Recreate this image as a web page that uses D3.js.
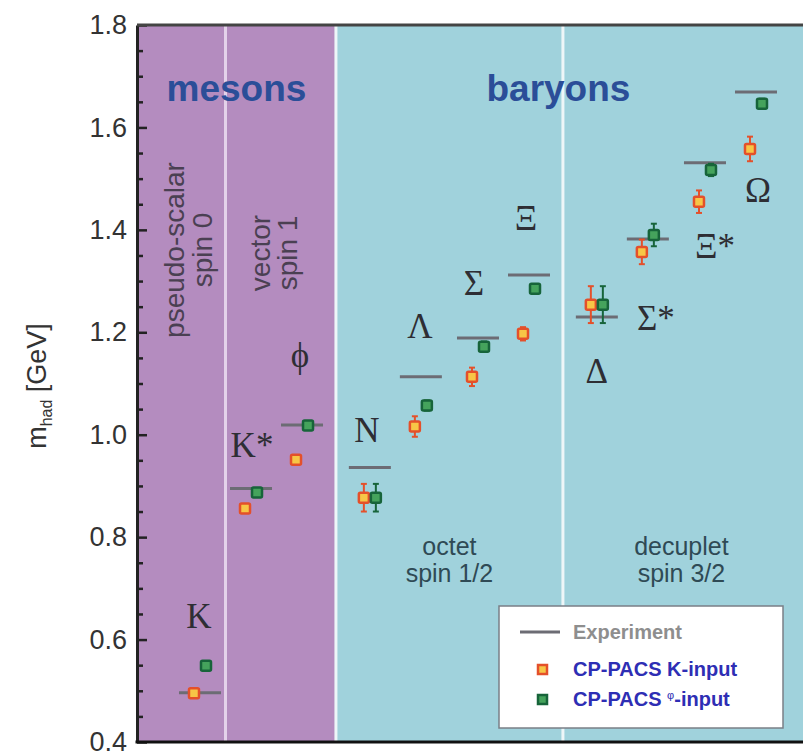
<!DOCTYPE html>
<html><head><meta charset="utf-8">
<script src="https://cdn.jsdelivr.net/npm/d3@7"></script>
<style>html,body{margin:0;padding:0;background:#fff;} svg{display:block;}</style>
</head><body>
<svg id="chart" width="803" height="752"></svg>
<script>
// Light hadron spectrum: experiment vs. quenched lattice QCD (CP-PACS)
const particles   = ["K", "K*", "ϕ", "N", "Λ", "Σ", "Ξ", "Δ", "Σ*", "Ξ*", "Ω"];
const groupNames  = ["pseudo-scalar", "vector", "octet", "decuplet"];
const particleGroup = [0, 1, 1, 2, 2, 2, 2, 3, 3, 3, 3];
const experiment  = [0.496, 0.895, 1.019, 0.936, 1.113, 1.189, 1.312, 1.230, 1.382, 1.531, 1.669];
const kInput      = [0.495, 0.856, 0.951, 0.877, 1.016, 1.113, 1.197, 1.254, 1.357, 1.455, 1.558];
const kInputErr   = [0.004, 0.004, 0.004, 0.027, 0.020, 0.018, 0.013, 0.036, 0.024, 0.022, 0.024];
const phiInput    = [0.549, 0.887, 1.018, 0.877, 1.057, 1.172, 1.285, 1.254, 1.390, 1.517, 1.646];
const phiInputErr = [0.004, 0.004, 0.004, 0.027, 0.010, 0.010, 0.008, 0.036, 0.022, 0.012, 0.010];
const yMajorTicks = [0.4, 0.6, 0.8, 1.0, 1.2, 1.4, 1.6, 1.8];
const seriesNames = ["Experiment", "CP-PACS K-input", "CP-PACS φ-input"];

// ---- layout ----
const W = 803, H = 752;
const plot = {left: 137, top: 25, right: 807, bottom: 742};
// extra spacing (in slot units) inserted before some particles
const gapBefore = {"N": 0.33, "Σ": 0.12, "Δ": 0.33, "Ξ*": 0.12};
let acc = 0;
const slot = particles.map((p, i) => { acc += (gapBefore[p] || 0); return i + acc; });

const x = d3.scaleLinear().domain([-1.235, 11.9]).range([plot.left, plot.right]);
const y = d3.scaleLinear().domain([0.4, 1.8]).range([plot.bottom, plot.top]);

const sans = "'Liberation Sans', Arial, Helvetica, sans-serif";
const serif = "'Liberation Serif', 'Times New Roman', Times, serif";
const col = {
  meson: "#b48cbf", baryon: "#a0d2dc",
  sepMeson: "#e4d2ea", sepMain: "#eef6f8",
  exp: "#6c6c74",
  kEdge: "#e4502a", kFill: "#f7c646",
  pEdge: "#17643a", pFill: "#45a35c",
  title: "#2b4e98", legendBlue: "#2e2eb4"
};

const svg = d3.select("#chart");
svg.append("rect").attr("width", W).attr("height", H).attr("fill", "#fff");

// group boundaries: midway between neighbouring particles of different groups
const bounds = [plot.left];
for (let i = 1; i < particles.length; i++) {
  if (particleGroup[i] !== particleGroup[i - 1]) bounds.push(x((slot[i] + slot[i - 1]) / 2));
}
bounds.push(plot.right);

// background bands
svg.append("rect").attr("x", plot.left).attr("y", plot.top)
  .attr("width", bounds[2] - plot.left).attr("height", plot.bottom - plot.top)
  .attr("fill", col.meson);
svg.append("rect").attr("x", bounds[2]).attr("y", plot.top)
  .attr("width", plot.right - bounds[2]).attr("height", plot.bottom - plot.top)
  .attr("fill", col.baryon);

// separators
[1, 2, 3].forEach(k => {
  svg.append("line").attr("x1", bounds[k]).attr("x2", bounds[k])
    .attr("y1", plot.top).attr("y2", plot.bottom)
    .attr("stroke", k === 1 ? col.sepMeson : col.sepMain).attr("stroke-width", 3);
});

// family titles
svg.append("text").attr("x", (plot.left + bounds[2]) / 2).attr("y", 101)
  .attr("text-anchor", "middle").attr("font-family", sans).attr("font-weight", "bold")
  .attr("font-size", 37).attr("fill", col.title).text("mesons");
svg.append("text").attr("x", (bounds[2] + bounds[3]) / 2 + 109).attr("y", 101)
  .attr("text-anchor", "middle").attr("font-family", sans).attr("font-weight", "bold")
  .attr("font-size", 37).attr("fill", col.title).text("baryons");

// rotated meson-group captions
const vertCaptions = [
  {lines: ["pseudo-scalar", "spin 0"], x: [184, 212], cy: 250},
  {lines: ["vector", "spin 1"], x: [270, 297], cy: 253}
];
vertCaptions.forEach(c => {
  c.lines.forEach((t, j) => {
    svg.append("text")
      .attr("transform", `translate(${c.x[j]},${c.cy}) rotate(-90)`)
      .attr("text-anchor", "middle").attr("font-family", sans)
      .attr("font-size", 28).attr("fill", "#4a4052").text(t);
  });
});

// baryon-group captions
const horizCaptions = [
  {lines: ["octet", "spin 1/2"], g: 2},
  {lines: ["decuplet", "spin 3/2"], g: 3}
];
horizCaptions.forEach(c => {
  const cx = c.g === 2 ? (bounds[2] + bounds[3]) / 2 : x((slot[7] + slot[10]) / 2) + 5;
  c.lines.forEach((t, j) => {
    svg.append("text").attr("x", cx).attr("y", 555 + j * 27)
      .attr("text-anchor", "middle").attr("font-family", sans)
      .attr("font-size", 25).attr("fill", "#2f4a55").text(t);
  });
});

// experimental values
const half = 21, off = 6;
svg.append("g").selectAll("line").data(particles).join("line")
  .attr("x1", (d, i) => x(slot[i]) - half).attr("x2", (d, i) => x(slot[i]) + half)
  .attr("y1", (d, i) => y(experiment[i])).attr("y2", (d, i) => y(experiment[i]))
  .attr("stroke", col.exp).attr("stroke-width", 3);

// lattice results with error bars
function drawSeries(vals, errs, dx, edge, fill) {
  const g = svg.append("g");
  particles.forEach((p, i) => {
    const cx = x(slot[i]) + dx;
    const lo = y(vals[i] - errs[i]), hi = y(vals[i] + errs[i]);
    g.append("line").attr("x1", cx).attr("x2", cx).attr("y1", lo).attr("y2", hi)
      .attr("stroke", edge).attr("stroke-width", 2);
    [lo, hi].forEach(yy => g.append("line").attr("x1", cx - 3).attr("x2", cx + 3)
      .attr("y1", yy).attr("y2", yy).attr("stroke", edge).attr("stroke-width", 2));
  });
  g.selectAll("rect").data(vals).join("rect")
    .attr("x", (d, i) => x(slot[i]) + dx - 5).attr("y", d => y(d) - 5)
    .attr("width", 10).attr("height", 10).attr("rx", 1.5)
    .attr("fill", fill).attr("stroke", edge).attr("stroke-width", 2.5);
}
drawSeries(kInput, kInputErr, -off, col.kEdge, col.kFill);
drawSeries(phiInput, phiInputErr, off, col.pEdge, col.pFill);

// particle names: pixel offset from the particle column, height in GeV
const labelPlace = [
  {dx: -1, v: 0.623}, {dx: 1, v: 0.957}, {dx: -2, v: 1.133}, {dx: -3, v: 0.986},
  {dx: -1, v: 1.189}, {dx: -4, v: 1.273}, {dx: -3, v: 1.400}, {dx: 0, v: 1.101},
  {dx: 8, v: 1.205}, {dx: 10, v: 1.345}, {dx: 2, v: 1.455}
];
svg.append("g").selectAll("text").data(particles).join("text")
  .attr("x", (d, i) => x(slot[i]) + labelPlace[i].dx)
  .attr("y", (d, i) => y(labelPlace[i].v))
  .attr("text-anchor", "middle").attr("font-family", serif)
  .attr("font-size", 35).attr("fill", "#2e2e34").text(d => d);

// axes
const yAxis = d3.axisLeft(y).tickValues(yMajorTicks).tickFormat(d3.format(".1f"))
  .tickSizeInner(-10).tickSizeOuter(0).tickPadding(10);
const minor = d3.range(0.45, 1.8, 0.05).filter(v => Math.abs(v * 5 - Math.round(v * 5)) > 1e-6);
const yMinor = d3.axisLeft(y).tickValues(minor).tickFormat("").tickSizeInner(-6).tickSizeOuter(0);

const gMinor = svg.append("g").attr("transform", `translate(${plot.left},0)`).call(yMinor);
gMinor.select(".domain").remove();
gMinor.selectAll("line").attr("stroke", "#222").attr("stroke-width", 2.5);

const gy = svg.append("g").attr("transform", `translate(${plot.left},0)`).call(yAxis);
gy.select(".domain").attr("stroke", "#222").attr("stroke-width", 3);
gy.selectAll(".tick line").attr("stroke", "#222").attr("stroke-width", 2.5);
gy.selectAll(".tick text").attr("font-family", sans).attr("font-size", 27).attr("fill", "#333");

// frame: top and bottom rules
svg.append("line").attr("x1", plot.left).attr("x2", W).attr("y1", plot.top).attr("y2", plot.top)
  .attr("stroke", "#444").attr("stroke-width", 3);
svg.append("line").attr("x1", plot.left - 1.5).attr("x2", W).attr("y1", plot.bottom).attr("y2", plot.bottom)
  .attr("stroke", "#111").attr("stroke-width", 3);

// y axis title
const yt = svg.append("text").attr("transform", `translate(46,${386}) rotate(-90)`)
  .attr("text-anchor", "middle").attr("font-family", sans).attr("font-size", 27).attr("fill", "#333");
yt.append("tspan").text("m");
yt.append("tspan").attr("font-size", 16).attr("dy", 6).text("had");
yt.append("tspan").attr("dy", -6).text(" [GeV]");

// legend
const lg = svg.append("g");
lg.append("rect").attr("x", 499).attr("y", 606).attr("width", 284).attr("height", 122)
  .attr("fill", "#fff").attr("stroke", "#7a7f86").attr("stroke-width", 1.5);
lg.append("line").attr("x1", 520).attr("x2", 560).attr("y1", 632).attr("y2", 632)
  .attr("stroke", col.exp).attr("stroke-width", 3);
lg.append("text").attr("x", 573).attr("y", 639).attr("font-family", sans).attr("font-weight", "bold")
  .attr("font-size", 20).attr("fill", "#8e8e8e").text(seriesNames[0]);
[[col.kEdge, col.kFill, 669], [col.pEdge, col.pFill, 699]].forEach(([e, f, yy]) => {
  lg.append("rect").attr("x", 538).attr("y", yy - 4).attr("width", 9).attr("height", 9)
    .attr("fill", f).attr("stroke", e).attr("stroke-width", 2.5);
});
lg.append("text").attr("x", 573).attr("y", 676).attr("font-family", sans).attr("font-weight", "bold")
  .attr("font-size", 20).attr("fill", col.legendBlue).text(seriesNames[1]);
const t3 = lg.append("text").attr("x", 573).attr("y", 706).attr("font-family", sans).attr("font-weight", "bold")
  .attr("font-size", 20).attr("fill", col.legendBlue);
t3.append("tspan").text("CP-PACS ");
t3.append("tspan").attr("font-size", 11).attr("font-weight", "normal").attr("dy", -7).text("φ");
t3.append("tspan").attr("dy", 7).text("-input");
</script>
</body></html>
